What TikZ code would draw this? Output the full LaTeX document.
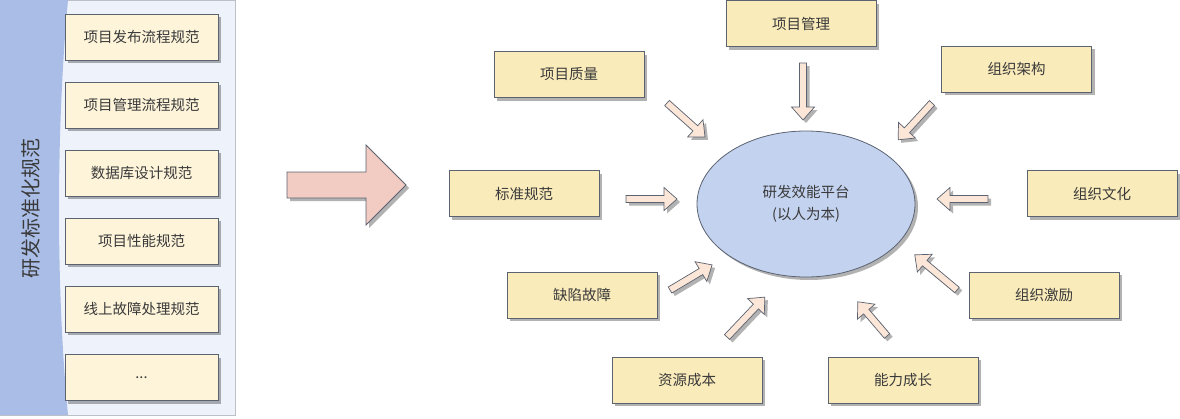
\documentclass[tikz,border=0pt]{standalone}
\usepackage{fontspec}
\setmainfont{Noto Sans CJK SC}
\usetikzlibrary{shapes.geometric, shadows}
\definecolor{bandblau}{HTML}{A9BDE6}
\definecolor{panel}{HTML}{EEF3FB}
\definecolor{kasten}{HTML}{FAEBBB}
\definecolor{kastenhell}{HTML}{FDF4DA}
\definecolor{kern}{HTML}{C3D2EF}
\definecolor{pfeil}{HTML}{FCE6D8}
\definecolor{grosspfeil}{HTML}{F2CBC3}
\definecolor{rand}{HTML}{5B6270}
\definecolor{schrift}{HTML}{3A3A3A}

\tikzset{
  schatten/.style={drop shadow={shadow xshift=3pt, shadow yshift=-3pt, opacity=0.3, fill=black}},
  feld/.style={draw=rand, line width=0.8pt, fill=kasten, minimum width=150pt,
    minimum height=46pt, schatten, text=schrift, font=\fontsize{14.5}{17}\selectfont},
  regel/.style={feld, fill=kastenhell, minimum width=153pt},
  pics/kleinpfeil/.style={code={
    \filldraw[draw=rand, line width=0.7pt, fill=pfeil, schatten]
      (0,-3.5) -- (#1-13,-3.5) -- (#1-13,-11.5) -- (#1,0) -- (#1-13,11.5)
      -- (#1-13,3.5) -- (0,3.5) -- cycle;}}
}

\begin{document}
\begin{tikzpicture}[x=1pt, y=-1pt]
  \useasboundingbox (0,0) rectangle (1180,418);

  % Linke Spalte
  \filldraw[fill=panel, draw=rand!40] (0,0) rectangle (235,415);
  \fill[bandblau] (0,0) -- (68,0) .. controls (56,130) and (56,290) .. (68,415)
    -- (0,415) -- cycle;
  \node[rotate=90, text=schrift, font=\fontsize{20}{24}\selectfont]
    (titel) at (31,208) {研发标准化规范};
  \foreach \y/\txt [count=\i] in {37/项目发布流程规范, 105/项目管理流程规范,
      173/数据库设计规范, 241/项目性能规范, 309/线上故障处理规范}
    \node[regel] (regel\i) at (141.5,\y) {\txt};
  \node[regel] (regel6) at (141.5,377.5) {...};

  % Großer Pfeil
  \filldraw[draw=rand, line width=0.8pt, fill=grosspfeil, schatten]
    (287,172) -- (366,172) -- (366,145) -- (406,185) -- (366,225)
    -- (366,198) -- (287,198) -- cycle;

  % Plattform in der Mitte
  \node[ellipse, draw=rand, line width=0.8pt, fill=kern, minimum width=218pt,
    minimum height=146pt, schatten, align=center, text=schrift,
    font=\fontsize{14.5}{22}\selectfont] (plattform) at (806,204)
    {研发效能平台\\(以人为本)};

  % Einflussfaktoren
  \node[feld] (verwaltung)  at (801,23.5)  {项目管理};
  \node[feld] (qualitaet)   at (569,74.5)  {项目质量};
  \node[feld] (architektur) at (1016.5,69) {组织架构};
  \node[feld] (standard)    at (524,193.5) {标准规范};
  \node[feld] (kultur)      at (1102,193.5) {组织文化};
  \node[feld] (fehler)      at (582,295)   {缺陷故障};
  \node[feld] (anreiz)      at (1044,295)  {组织激励};
  \node[feld] (kosten)      at (687,380)   {资源成本};
  \node[feld] (wachstum)    at (903,380)   {能力成长};

  % kleine Pfeile zur Plattform
  \foreach \x/\y/\w/\l in {803/63/-90/57, 667/103/-41.8/51, 932/103/-132.6/50,
      626/199/0/51, 988/199/180/51, 957/290/140.2/55, 670/290/30.8/49,
      727/337/46.5/55, 887/336/130.5/45}
    \pic[rotate=\w] at (\x,\y) {kleinpfeil=\l};
\end{tikzpicture}
\end{document}
